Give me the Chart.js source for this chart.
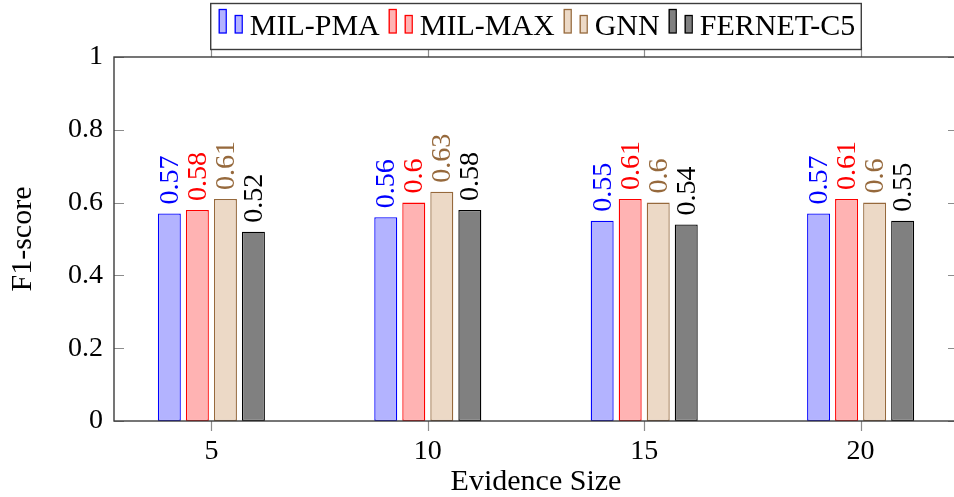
<!DOCTYPE html>
<html>
<head>
<meta charset="utf-8">
<script src="https://cdn.jsdelivr.net/npm/chart.js@4/dist/chart.umd.min.js"></script>
<style>
  html, body { margin: 0; padding: 0; background: #ffffff; overflow: hidden; }
  #wrap { width: 954px; height: 497px; overflow: hidden; }
  canvas { display: block; }
</style>
</head>
<body>
<div id="wrap"><canvas id="c" width="964" height="497"></canvas></div>
<script>
// Evidence sizes on the x axis
const evidenceSizes = [5, 10, 15, 20];
const xTickValues = [5, 10, 15, 20];
const yTickValues = [0, 0.2, 0.4, 0.6, 0.8, 1];

// F1-scores per model
const milPma   = [0.57, 0.56, 0.55, 0.57];
const milMax   = [0.58, 0.60, 0.61, 0.61];
const gnn      = [0.61, 0.63, 0.60, 0.60];
const fernetC5 = [0.52, 0.58, 0.54, 0.55];

const seriesNames = ['MIL-PMA', 'MIL-MAX', 'GNN', 'FERNET-C5'];

const SERIF = '"Liberation Serif", "DejaVu Serif", serif';

const styles = [
  { fill: 'rgb(179,179,255)', line: 'rgb(0,0,255)',     text: 'rgb(0,0,255)' },
  { fill: 'rgb(255,179,179)', line: 'rgb(255,0,0)',     text: 'rgb(255,0,0)' },
  { fill: 'rgb(236,217,198)', line: 'rgb(150,105,60)',  text: 'rgb(150,105,60)' },
  { fill: 'rgb(128,128,128)', line: 'rgb(0,0,0)',       text: 'rgb(0,0,0)' }
];

const seriesValues = [milPma, milMax, gnn, fernetC5];

const datasets = seriesValues.map((vals, i) => ({
  label: seriesNames[i],
  data: evidenceSizes.map((x, j) => ({ x: x, y: vals[j] })),
  backgroundColor: styles[i].fill,
  borderColor: styles[i].line,
  borderWidth: 1.3,
  borderSkipped: false,
  categoryPercentage: 0.518,
  barPercentage: 0.82,
  labelColor: styles[i].text
}));

// Rotated value labels above each bar
const valueLabels = {
  id: 'valueLabels',
  afterDatasetsDraw(chart) {
    const ctx = chart.ctx;
    ctx.save();
    ctx.font = '28px ' + SERIF;
    ctx.textAlign = 'left';
    ctx.textBaseline = 'middle';
    chart.data.datasets.forEach((ds, i) => {
      const meta = chart.getDatasetMeta(i);
      meta.data.forEach((bar, j) => {
        const v = ds.data[j].y;
        const txt = String(Number(v.toFixed(2)));
        ctx.save();
        ctx.fillStyle = ds.labelColor;
        ctx.translate(bar.x, bar.y - 9);
        ctx.rotate(-Math.PI / 2);
        ctx.fillText(txt, 0, 1);
        ctx.restore();
      });
    });
    ctx.restore();
  }
};

// Box frame with inward y ticks and outward x ticks
const frame = {
  id: 'frame',
  afterDatasetsDraw(chart) {
    const { ctx, chartArea: a, scales } = chart;
    ctx.save();
    ctx.strokeStyle = 'rgb(140,140,140)';
    ctx.lineWidth = 1.2;
    ctx.beginPath();
    yTickValues.forEach(v => {
      const y = Math.round(scales.y.getPixelForValue(v)) + 0.5;
      ctx.moveTo(a.left, y); ctx.lineTo(a.left + 10, y);
      ctx.moveTo(a.right, y); ctx.lineTo(a.right - 10, y);
    });
    xTickValues.forEach(v => {
      const x = Math.round(scales.x.getPixelForValue(v)) + 0.5;
      ctx.moveTo(x, a.bottom); ctx.lineTo(x, a.bottom + 10);
      ctx.moveTo(x, a.top); ctx.lineTo(x, a.top - 10);
    });
    ctx.stroke();
    ctx.strokeStyle = 'rgb(60,60,60)';
    ctx.lineWidth = 1.4;
    ctx.strokeRect(a.left, a.top, a.right - a.left, a.bottom - a.top);
    ctx.restore();
  }
};

// Framed legend row centred over the plot
const boxLegend = {
  id: 'boxLegend',
  afterDraw(chart) {
    const { ctx, chartArea: a } = chart;
    ctx.save();
    ctx.font = '30px ' + SERIF;
    const padL = 8, padR = 6, iconW = 24, iconGap = 7, itemGap = 9;
    const items = chart.data.datasets.map(ds => ({ ds, w: ctx.measureText(ds.label).width }));
    let total = padL + padR;
    items.forEach((it, k) => { total += iconW + iconGap + it.w + (k < items.length - 1 ? itemGap : 0); });
    const cx = (a.left + a.right) / 2;
    const left = cx - total / 2;
    const top = 3.5, bottom = 49.5;
    ctx.fillStyle = '#ffffff';
    ctx.fillRect(left, top, total, bottom - top);
    ctx.strokeStyle = 'rgb(60,60,60)';
    ctx.lineWidth = 1.4;
    ctx.strokeRect(left, top, total, bottom - top);
    let x = left + padL;
    items.forEach(it => {
      ctx.fillStyle = it.ds.backgroundColor;
      ctx.strokeStyle = it.ds.borderColor;
      ctx.lineWidth = 1.3;
      ctx.fillRect(x, 9.5, 7, 23.5);
      ctx.strokeRect(x + 0.5, 9.5, 7, 23.5);
      ctx.fillRect(x + 16, 15.5, 7, 17.5);
      ctx.strokeRect(x + 16.5, 15.5, 7, 17.5);
      x += iconW + iconGap;
      ctx.fillStyle = '#000000';
      ctx.textAlign = 'left';
      ctx.textBaseline = 'alphabetic';
      ctx.fillText(it.ds.label, x, 35);
      x += it.w + itemGap;
    });
    ctx.restore();
  }
};

new Chart(document.getElementById('c'), {
  type: 'bar',
  data: { datasets },
  options: {
    responsive: false,
    animation: false,
    layout: { padding: { top: 57, left: 0, right: 6, bottom: 0 } },
    plugins: {
      legend: { display: false },
      tooltip: { enabled: false }
    },
    scales: {
      x: {
        type: 'linear',
        min: 2.75,
        max: 22.25,
        offset: false,
        afterBuildTicks(scale) { scale.ticks = xTickValues.map(v => ({ value: v })); },
        afterFit(scale) { scale.height = 76; },
        grid: { display: false, drawTicks: false },
        border: { display: false },
        ticks: { font: { family: SERIF, size: 28 }, color: '#000', padding: 14, maxRotation: 0 },
        title: { display: true, text: 'Evidence Size', color: '#000',
                 font: { family: SERIF, size: 30, lineHeight: 1 }, padding: { top: 0, bottom: 0 } }
      },
      y: {
        min: 0,
        max: 1,
        afterBuildTicks(scale) { scale.ticks = yTickValues.map(v => ({ value: v })); },
        afterFit(scale) { scale.width = 114; },
        grid: { display: false, drawTicks: false },
        border: { display: false },
        ticks: {
          font: { family: SERIF, size: 28 }, color: '#000', padding: 11,
          callback: v => String(Number(v.toFixed(1)))
        },
        title: { display: true, text: 'F1-score', color: '#000',
                 font: { family: SERIF, size: 30, lineHeight: 1 }, padding: { top: 8, bottom: 0 } }
      }
    }
  },
  plugins: [frame, valueLabels, boxLegend]
});
</script>
</body>
</html>
